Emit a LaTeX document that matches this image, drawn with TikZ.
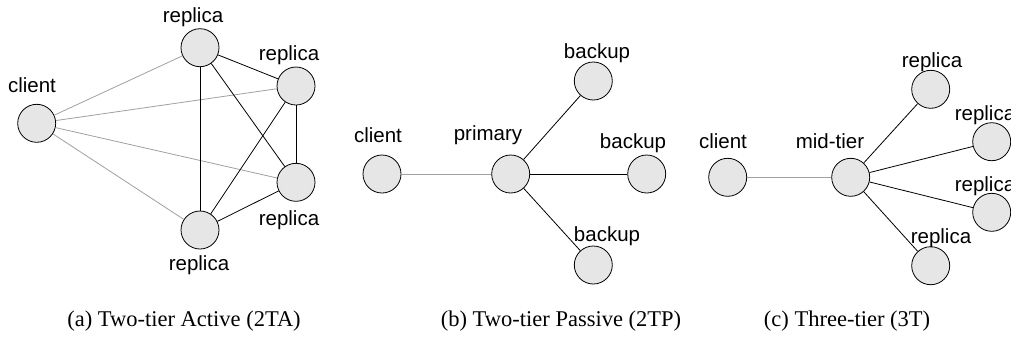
\documentclass[tikz,border=0pt]{standalone}
\usepackage{fontspec}
\setmainfont{Liberation Serif}
\newfontfamily\labelfont{Liberation Sans}
\begin{document}
\begin{tikzpicture}[x=1pt,y=-1pt,
  site/.style={circle,draw=black,line width=0.8pt,fill=nodegray,minimum size=38pt,inner sep=0pt},
  tag/.style={font=\labelfont\fontsize{20.5}{23}\selectfont,inner sep=0pt,anchor=center},
  captext/.style={font=\fontsize{22.5}{26}\selectfont,inner sep=0pt,anchor=center},
  clientlink/.style={draw=linegray,line width=0.8pt},
  peerlink/.style={draw=black,line width=0.8pt}]
\definecolor{nodegray}{HTML}{E6E6E6}
\definecolor{linegray}{HTML}{A0A0A0}
\useasboundingbox (0,0) rectangle (1011,349);
\clip (0,0) rectangle (1011,349);

% (a) two-tier active
\node[site] (ac) at (36.7,123.3) {};
\node[site] (ar1) at (200,47.7) {};
\node[site] (ar2) at (296,86) {};
\node[site] (ar3) at (296,182.3) {};
\node[site] (ar4) at (200,230) {};
\node[tag] (acl) at (32,85) {client};
\node[tag] (ar1l) at (193,17) {replica};
\node[tag] (ar2l) at (289,55) {replica};
\node[tag] (ar3l) at (289,220) {replica};
\node[tag] (ar4l) at (199,265) {replica};
\foreach \r in {ar1,ar2,ar3,ar4} \path[clientlink] (ac) -- (\r);
\path[peerlink] (ar1) -- (ar2);
\path[peerlink] (ar1) -- (ar3);
\path[peerlink] (ar1) -- (ar4);
\path[peerlink] (ar2) -- (ar3);
\path[peerlink] (ar2) -- (ar4);
\path[peerlink] (ar3) -- (ar4);

% (b) two-tier passive
\node[site] (bc) at (382,174) {};
\node[site] (bp) at (510.7,174) {};
\node[site] (bb1) at (593.3,81) {};
\node[site] (bb2) at (646.7,174) {};
\node[site] (bb3) at (593.3,265) {};
\node[tag] (bcl) at (378,135) {client};
\node[tag] (bpl) at (488,135) {primary};
\node[tag] (bb1l) at (597,53) {backup};
\node[tag] (bb2l) at (633,143) {backup};
\node[tag] (bb3l) at (607,236) {backup};
\path[clientlink] (bc) -- (bp);
\path[peerlink] (bp) -- (bb1);
\path[peerlink] (bp) -- (bb2);
\path[peerlink] (bp) -- (bb3);

% (c) three-tier
\node[site] (cc) at (727.7,177.3) {};
\node[site] (cm) at (850.7,177.3) {};
\node[site] (cr1) at (930.7,89.3) {};
\node[site] (cr2) at (991.7,141.7) {};
\node[site] (cr3) at (991.7,212.3) {};
\node[site] (cr4) at (930.7,265.7) {};
\node[tag] (ccl) at (723,141) {client};
\node[tag] (cml) at (830,141) {mid-tier};
\node[tag] (cr1l) at (932,62) {replica};
\node[tag] (cr2l) at (985,115) {replica};
\node[tag] (cr3l) at (985,186) {replica};
\node[tag] (cr4l) at (941,238) {replica};
\path[clientlink] (cc) -- (cm);
\foreach \r in {cr1,cr2,cr3,cr4} \path[peerlink] (cm) -- (\r);

% captions
\node[captext] (capa) at (184,321) {(a) Two-tier Active (2TA)};
\node[captext] (capb) at (561,321) {(b) Two-tier Passive (2TP)};
\node[captext] (capc) at (847,321) {(c) Three-tier (3T)};
\end{tikzpicture}
\end{document}
